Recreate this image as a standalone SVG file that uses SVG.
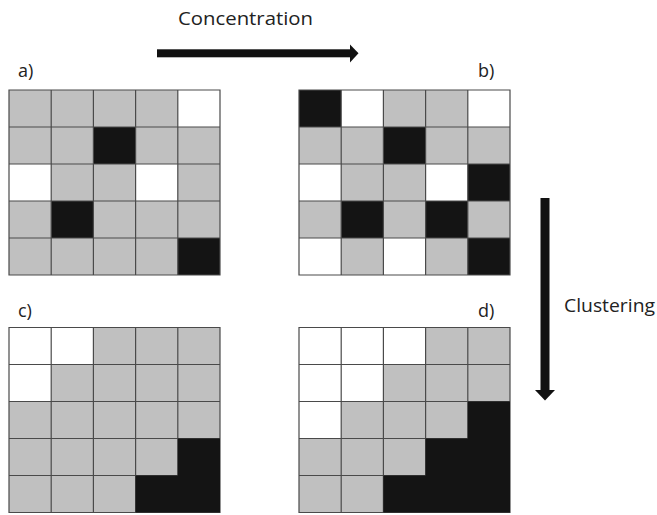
<svg xmlns="http://www.w3.org/2000/svg" width="657" height="515" viewBox="0 0 657 515">
<defs>
<style>
.g{fill:#c0c0c0}
.w{fill:#ffffff}
.k{fill:#141414}
.ln{stroke:#4a4a4a;stroke-width:1.2;fill:none}
.t{font-family:"Open Sans","Liberation Sans",sans-serif;font-size:18px;fill:#222}
.arr{fill:#111}
</style>
<g id="grid-lines">
<path class="ln" d="M0,0H211V185H0Z M42.2,0V185 M84.4,0V185 M126.6,0V185 M168.8,0V185 M0,37H211 M0,74H211 M0,111H211 M0,148H211"/>
</g>
</defs>
<rect width="657" height="515" fill="#fff"/>

<g id="grid-a" transform="translate(9,90)">
<rect class="g" x="0" y="0" width="211" height="185"/>
<rect class="w" x="168.8" y="0" width="42.2" height="37"/>
<rect class="k" x="84.4" y="37" width="42.2" height="37"/>
<rect class="w" x="0" y="74" width="42.2" height="37"/>
<rect class="w" x="126.6" y="74" width="42.2" height="37"/>
<rect class="k" x="42.2" y="111" width="42.2" height="37"/>
<rect class="k" x="168.8" y="148" width="42.2" height="37"/>
<use href="#grid-lines"/>
<text class="t" x="9" y="-13">a)</text>
</g>

<g id="grid-b" transform="translate(299,90)">
<rect class="g" x="0" y="0" width="211" height="185"/>
<rect class="k" x="0" y="0" width="42.2" height="37"/>
<rect class="w" x="42.2" y="0" width="42.2" height="37"/>
<rect class="w" x="168.8" y="0" width="42.2" height="37"/>
<rect class="k" x="84.4" y="37" width="42.2" height="37"/>
<rect class="w" x="0" y="74" width="42.2" height="37"/>
<rect class="w" x="126.6" y="74" width="42.2" height="37"/>
<rect class="k" x="168.8" y="74" width="42.2" height="37"/>
<rect class="k" x="42.2" y="111" width="42.2" height="37"/>
<rect class="k" x="126.6" y="111" width="42.2" height="37"/>
<rect class="w" x="0" y="148" width="42.2" height="37"/>
<rect class="w" x="84.4" y="148" width="42.2" height="37"/>
<rect class="k" x="168.8" y="148" width="42.2" height="37"/>
<use href="#grid-lines"/>
<text class="t" x="179" y="-13">b)</text>
</g>

<g id="grid-c" transform="translate(9,327.5)">
<rect class="g" x="0" y="0" width="211" height="185"/>
<rect class="w" x="0" y="0" width="84.4" height="37"/>
<rect class="w" x="0" y="37" width="42.2" height="37"/>
<use href="#grid-lines"/>
<path class="k" d="M168.8,111H211V185H126.6V148H168.8Z"/>
<text class="t" x="9" y="-11">c)</text>
</g>

<g id="grid-d" transform="translate(299,327.5)">
<rect class="g" x="0" y="0" width="211" height="185"/>
<rect class="w" x="0" y="0" width="126.6" height="37"/>
<rect class="w" x="0" y="37" width="84.4" height="37"/>
<rect class="w" x="0" y="74" width="42.2" height="37"/>
<use href="#grid-lines"/>
<path class="k" d="M168.8,74H211V185H84.4V148H126.6V111H168.8Z"/>
<text class="t" x="179" y="-11">d)</text>
</g>

<g id="connectors">
<g id="arrow-concentration">
<rect class="arr" x="157" y="49.3" width="194" height="8"/>
<polygon class="arr" points="350,44.5 358.5,53.3 350,62.5"/>
<text class="t" x="178" y="25" textLength="135" lengthAdjust="spacingAndGlyphs">Concentration</text>
</g>
<g id="arrow-clustering">
<rect class="arr" x="540.5" y="198" width="9" height="193"/>
<polygon class="arr" points="535,390 555,390 545,400.5"/>
<text class="t" x="564" y="312" textLength="91" lengthAdjust="spacingAndGlyphs">Clustering</text>
</g>
</g>
</svg>
